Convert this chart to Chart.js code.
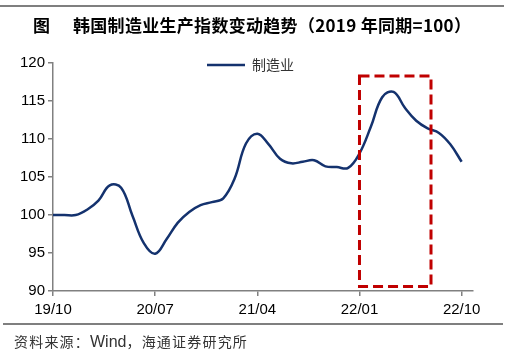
<!DOCTYPE html>
<html>
<head>
<meta charset="utf-8">
<script src="https://cdn.jsdelivr.net/npm/chart.js@4.4.0/dist/chart.umd.min.js"></script>
<style>
  body { margin: 0; background: #fff; }
  #wrap { position: relative; width: 521px; height: 353px; overflow: hidden; }
  #chart { position: absolute; left: 0; top: 0; }
  .rule { position: absolute; height: 1.5px; background: #7f7f7f; }
  #title { position: absolute; left: 33px; top: 14px; font: bold 17px "Noto Sans CJK SC", sans-serif; color: #000; white-space: nowrap; letter-spacing: 0.3px; line-height: 22px; }
  #title .fig { display: inline-block; width: 40px; }
  #source { position: absolute; left: 14px; top: 331px; font: 14px "Noto Sans CJK SC", sans-serif; color: #333; white-space: nowrap; line-height: 20px; letter-spacing: 1.2px; }
  #source .en { font-family: "Liberation Sans", Arial, sans-serif; font-size: 16px; letter-spacing: 0; }
</style>
</head>
<body>
<div id="wrap">
  <canvas id="chart" width="521" height="353"></canvas>
  <div class="rule" style="top:5px;left:0;width:504px;"></div>
  <div id="title"><span class="fig">图</span>韩国制造业生产指数变动趋势（2019 年同期=100）</div>
  <div class="rule" style="top:323px;left:3px;width:500px;"></div>
  <div id="source">资料来源：<span class="en">Wind</span>，海通证券研究所</div>
</div>
<script>
// monthly, 2019/10 .. 2022/10
const months = [
  "19/10", "19/11", "19/12",
  "20/01", "20/02", "20/03", "20/04", "20/05", "20/06", "20/07", "20/08", "20/09", "20/10", "20/11", "20/12",
  "21/01", "21/02", "21/03", "21/04", "21/05", "21/06", "21/07", "21/08", "21/09", "21/10", "21/11", "21/12",
  "22/01", "22/02", "22/03", "22/04", "22/05", "22/06", "22/07", "22/08", "22/09", "22/10"
];
const manufacturing = [
  100.0, 100.0, 100.0,
  100.7, 101.9, 103.9, 103.6, 99.9, 96.3, 94.9, 96.8, 99.0, 100.4, 101.3, 101.7,
  102.2, 104.8, 109.4, 110.7, 109.3, 107.4, 106.8, 107.0, 107.2, 106.4, 106.3, 106.2,
  108.1, 111.6, 115.5, 116.2, 114.1, 112.4, 111.4, 110.8, 109.3, 107.0
];
const xTickLabels = ["19/10", "20/07", "21/04", "22/01", "22/10"];
const yTicks = [90, 95, 100, 105, 110, 115, 120];

// highlighted period (month index range) and value range of the red box
const boxMonths = [27, 33.3];
const boxValues = [90.6, 118.3];

const lineColor = "#14326e";

const legendPlugin = {
  id: "insideLegend",
  afterDraw(chart) {
    const ctx = chart.ctx;
    const ds = chart.data.datasets[0];
    ctx.save();
    ctx.strokeStyle = ds.borderColor;
    ctx.lineWidth = 2.5;
    ctx.beginPath();
    ctx.moveTo(207, 65);
    ctx.lineTo(245, 65);
    ctx.stroke();
    ctx.fillStyle = "#333";
    ctx.font = '14px "Noto Sans CJK SC", sans-serif';
    ctx.textBaseline = "middle";
    ctx.fillText(ds.label, 252, 65);
    ctx.restore();
  }
};

const boxPlugin = {
  id: "highlightBox",
  afterDatasetsDraw(chart) {
    const { ctx, scales } = chart;
    const x1 = scales.x.getPixelForValue(boxMonths[0]);
    const x2 = scales.x.getPixelForValue(boxMonths[1]);
    const y1 = scales.y.getPixelForValue(boxValues[1]);
    const y2 = scales.y.getPixelForValue(boxValues[0]);
    ctx.save();
    ctx.strokeStyle = "#c00000";
    ctx.lineWidth = 3;
    ctx.setLineDash([10, 5]);
    ctx.strokeRect(x1, y1, x2 - x1, y2 - y1);
    ctx.restore();
  }
};

new Chart(document.getElementById("chart"), {
  type: "line",
  data: {
    datasets: [
      {
        label: "制造业",
        data: manufacturing.map((v, i) => ({ x: i, y: v })),
        borderColor: lineColor,
        borderWidth: 2.5,
        pointRadius: 0,
        tension: 0.4,
        fill: false,
      },
    ],
  },
  options: {
    responsive: false,
    animation: false,
    devicePixelRatio: 1,
    layout: { padding: { left: 0, top: 63, right: 48, bottom: 32 } },
    plugins: {
      legend: { display: false },
      tooltip: { enabled: false },
    },
    scales: {
      x: {
        type: "linear",
        min: 0,
        max: 37,
        afterBuildTicks: (scale) => {
          scale.ticks = xTickLabels.map((l) => ({ value: months.indexOf(l) }));
        },
        afterFit: (scale) => { scale.height = 30; },
        ticks: {
          callback: (v) => months[v],
          color: "#000",
          font: { family: '"Liberation Sans", Arial, sans-serif', size: 15 },
          padding: 5,
          maxRotation: 0,
          autoSkip: false,
        },
        grid: { drawOnChartArea: false, tickLength: 5, color: "#808080", lineWidth: 1.5 },
        border: { color: "#808080", width: 1.5 },
      },
      y: {
        min: 90,
        max: 120,
        afterBuildTicks: (scale) => {
          scale.ticks = yTicks.map((v) => ({ value: v }));
        },
        afterFit: (scale) => { scale.width = 53; },
        ticks: {
          color: "#000",
          font: { family: '"Liberation Sans", Arial, sans-serif', size: 15 },
          padding: 3,
        },
        grid: { drawOnChartArea: false, tickLength: 5, color: "#808080", lineWidth: 1.5 },
        border: { color: "#808080", width: 1.5 },
      },
    },
  },
  plugins: [boxPlugin, legendPlugin],
});
</script>
</body>
</html>
